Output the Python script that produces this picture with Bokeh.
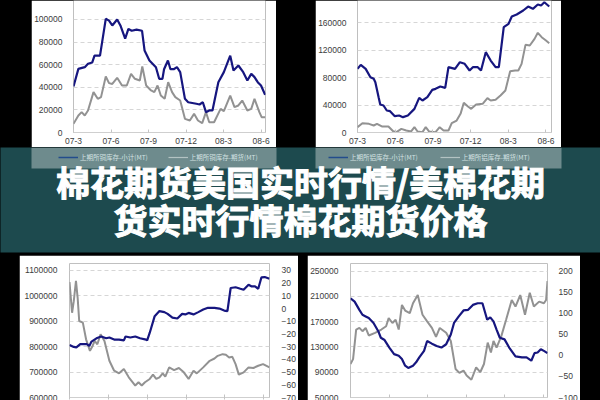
from bokeh.plotting import figure
from bokeh.layouts import row, column
from bokeh.models import (Range1d, LinearAxis, FixedTicker, BasicTickFormatter, Spacer,
                          Legend, LegendItem, GlobalInlineStyleSheet)
from bokeh.embed import file_html
from bokeh.resources import INLINE
from bokeh.core.properties import value

# ---------------- data ----------------
tick_pos = [0, 3, 6, 9, 12, 15]
tick_labels = ["07-3", "07-6", "07-9", "07-12", "08-3", "08-6"]

title_lines = ["棉花期货美国实时行情/美棉花期", "货实时行情棉花期货价格"]
legend_tl = ["上期所铜库存-小计(MT)", "上期所铜库存-期货(MT)"]
legend_tr = ["上期所铝库存-小计(MT)", "上期所铝库存-期货(MT)"]

# top-left: copper stocks (months since 07-3)
tl_blue_m = [0.00, 0.39, 0.90, 1.16, 1.50, 1.68, 2.12, 2.58, 2.84, 3.10, 3.49, 3.75, 4.13, 4.39, 4.65,
             5.04, 5.48, 5.68, 6.07, 6.59, 6.85, 7.11, 7.24, 7.55, 7.75, 8.01, 8.27, 8.53, 8.91, 9.17,
             9.82, 10.08, 10.34, 10.59, 10.85, 11.11, 11.58, 12.02, 12.53, 12.79, 13.18, 13.57, 13.90,
             14.21, 14.47, 14.73, 14.99, 15.32]
tl_blue_v = [40700, 56300, 57800, 60800, 62000, 68000, 68000, 100600, 99000, 94700, 100000, 94700,
             83000, 91700, 90000, 91000, 90000, 72600, 63700, 57800, 47500, 47500, 56000, 63700, 56000,
             56000, 57800, 53400, 29800, 26800, 25400, 24800, 26800, 18000, 19500, 19500, 44500, 53400,
             68000, 54900, 59300, 53400, 46000, 51900, 49000, 44500, 41600, 33300]
tl_gray_m = [0.00, 0.39, 0.65, 0.90, 1.16, 1.60, 1.94, 2.20, 2.58, 2.84, 3.10, 3.49, 3.88, 4.26, 4.60,
             4.91, 5.30, 5.50, 5.81, 6.20, 6.46, 6.72, 6.98, 7.29, 7.57, 7.88, 8.14, 8.53, 8.91, 9.30,
             9.64, 9.95, 10.29, 10.59, 10.85, 11.24, 11.76, 12.02, 12.53, 12.87, 13.18, 13.49, 13.90,
             14.21, 14.47, 14.86, 15.04, 15.32]
tl_gray_v = [7700, 15000, 18000, 15000, 19500, 35700, 29800, 31300, 49600, 43700, 43000, 48400, 41600,
             41600, 51900, 47500, 46000, 58400, 41600, 37200, 35700, 41600, 32700, 29800, 44500, 35700,
             31300, 28300, 12100, 10600, 16500, 10600, 8300, 18000, 9100, 9100, 20900, 18900, 32700,
             22400, 23900, 28300, 19500, 20900, 29800, 18000, 13600, 13600]

# top-right: aluminium stocks
tr_blue_m = [0.00, 0.26, 0.65, 1.03, 1.29, 1.42, 1.68, 1.81, 2.07, 2.33, 2.59, 2.97, 3.31, 3.62, 4.01,
             4.53, 4.91, 5.17, 5.56, 5.95, 6.21, 6.59, 6.98, 7.24, 7.76, 8.15, 8.53, 8.92, 9.18, 9.57,
             9.83, 10.21, 10.60, 10.99, 11.25, 11.64, 12.02, 12.28, 12.67, 13.19, 13.58, 13.96, 14.35,
             14.61, 14.87, 15.26]
tr_blue_v = [92900, 98700, 92900, 80700, 78300, 73400, 51500, 40800, 39400, 32100, 31100, 23800, 24800,
             22400, 24800, 34500, 50600, 46700, 51500, 62200, 63700, 67100, 65200, 95300, 92900, 102600,
             100200, 90500, 95300, 95300, 90500, 117200, 105000, 95300, 95300, 153700, 158500, 169200,
             172200, 178000, 183800, 180400, 186700, 185300, 190000, 183800]
tr_gray_m = [0.00, 0.39, 0.91, 1.29, 1.55, 1.94, 2.46, 2.84, 3.10, 3.49, 3.88, 4.27, 4.53, 4.78, 5.17,
             5.43, 5.69, 6.21, 6.54, 6.85, 7.24, 7.50, 7.89, 8.20, 8.46, 8.79, 9.05, 9.44, 9.96, 10.34,
             10.60, 10.99, 11.38, 11.77, 12.15, 12.54, 12.80, 13.06, 13.37, 13.71, 14.09, 14.35, 14.66,
             15.00, 15.26]
tr_gray_v = [7800, 13600, 12600, 10200, 12600, 8800, 8800, 1900, 500, 5300, 2900, 1500, 7800, 1500, 500,
             7800, 1500, 500, 7800, 2900, 2900, 13600, 17500, 27200, 43300, 37900, 34500, 40800, 41800,
             50100, 46700, 47700, 54000, 61300, 89500, 90500, 90500, 100200, 127900, 126900, 136600,
             145400, 139100, 134200, 130300]

# bottom-left: left axis (blue) and right axis (gray)
bl_blue_m = [0.00, 0.33, 0.53, 0.83, 1.33, 1.53, 1.70, 2.08, 2.45, 2.83, 3.08, 3.45, 3.83, 4.20, 4.33,
             4.70, 5.08, 5.45, 5.83, 6.00, 6.20, 6.58, 6.95, 7.33, 7.58, 7.95, 8.33, 8.70, 8.95, 9.20,
             9.58, 9.95, 10.33, 10.70, 11.20, 11.58, 11.95, 12.20, 12.45, 12.83, 13.20, 13.45, 13.83,
             14.08, 14.33, 14.58, 14.83, 15.08, 15.45]
bl_blue_v = [807000, 799000, 797000, 810000, 810000, 803000, 820000, 833000, 840000, 833000, 836000,
             828000, 828000, 825000, 840000, 836000, 840000, 833000, 829000, 825000, 855000, 920000,
             940000, 936000, 929000, 914000, 911000, 929000, 927000, 933000, 927000, 936000, 946000,
             953000, 953000, 950000, 942000, 940000, 1031000, 1034000, 1028000, 1024000, 1044000,
             1037000, 1037000, 1028000, 1073000, 1074000, 1067000]
bl_gray_m = [0.00, 0.20, 0.33, 0.50, 0.63, 0.75, 1.03, 1.28, 1.58, 1.78, 1.95, 2.15, 2.40, 2.70, 3.08,
             3.45, 3.83, 4.20, 4.58, 5.08, 5.33, 5.58, 5.83, 6.20, 6.45, 6.70, 6.95, 7.20, 7.40, 7.70,
             8.08, 8.45, 8.83, 9.20, 9.58, 9.83, 10.33, 10.83, 11.20, 11.45, 11.83, 12.08, 12.33, 12.58,
             12.83, 13.08, 13.45, 13.83, 14.20, 14.58, 14.95, 15.45]
bl_gray_v = [20.9, -3.3, 5.8, 21.9, 8.4, -9.8, -11.1, -24.2, -33.3, -29.4, -25.5, -28.1, -20.3, -25.5,
             -41.1, -48.9, -51.0, -47.6, -54.1, -60.6, -58.0, -60.6, -58.0, -55.4, -52.0, -55.4, -54.1,
             -51.0, -53.6, -46.3, -48.4, -46.8, -50.2, -55.4, -48.9, -51.0, -46.3, -41.1, -39.3, -37.2,
             -35.9, -36.4, -38.5, -38.0, -43.7, -52.0, -50.2, -46.3, -46.8, -45.0, -43.7, -46.3]

# bottom-right
br_blue_m = [0.00, 0.32, 0.69, 0.93, 1.18, 1.42, 1.79, 2.16, 2.36, 2.65, 3.02, 3.39, 3.75, 4.00, 4.25,
             4.49, 4.86, 5.10, 5.35, 5.72, 5.96, 6.33, 6.70, 7.07, 7.44, 7.80, 8.05, 8.42, 8.79, 9.15,
             9.52, 9.89, 10.26, 10.63, 10.87, 11.12, 11.36, 11.61, 11.98, 12.34, 12.83, 13.33, 13.69,
             14.06, 14.31, 14.55, 14.80, 15.04, 15.32]
br_blue_v = [206900, 201700, 188700, 180900, 178300, 175700, 167900, 154900, 144500, 140900, 129000,
             118600, 116000, 110800, 100400, 96800, 100400, 105600, 113400, 123800, 139400, 135200,
             131600, 129000, 134200, 149700, 167900, 178300, 187700, 188700, 196500, 199100, 199100,
             173100, 176800, 170500, 157500, 144500, 142000, 129000, 115000, 113400, 113400, 108200,
             120100, 121200, 126400, 123800, 120100]
br_gray_m = [0.00, 0.20, 0.44, 0.69, 0.93, 1.18, 1.42, 1.91, 2.40, 2.77, 2.97, 3.26, 3.51, 3.75, 4.00,
             4.25, 4.61, 4.86, 5.23, 5.60, 5.96, 6.33, 6.65, 6.94, 7.44, 7.80, 8.17, 8.47, 8.79, 9.03,
             9.40, 9.77, 10.09, 10.38, 10.67, 10.92, 11.12, 11.36, 11.73, 12.10, 12.54, 12.83, 13.20,
             13.57, 13.94, 14.26, 14.67, 15.04, 15.21, 15.32]
br_gray_v = [-20.5, -8.9, 61.3, 65.1, 57.4, 65.1, 47.2, 53.5, 61.3, 69.0, 88.5, 76.8, 84.6, 61.3, 119.7,
             106.4, 100.2, 123.6, 143.0, 96.3, 80.7, 65.1, 44.1, 65.1, 53.5, 34.0, -32.2, -41.6, -36.1,
             -47.8, -57.9, -28.3, -40.0, -20.5, 30.1, 6.7, 34.0, 18.4, 45.7, 84.6, 131.4, 115.8, 143.0,
             96.3, 148.5, 115.8, 127.5, 123.6, 131.4, 176.5]

tl_yticks = [0, 20000, 40000, 60000, 80000, 100000]
tr_yticks = [0, 40000, 80000, 120000, 160000]
bl_yticks = [600000, 700000, 800000, 900000, 1000000, 1100000]
bl_rticks = [-70, -60, -50, -40, -30, -20, -10, 0, 10, 20, 30]
br_yticks = [50000, 90000, 130000, 170000, 210000, 250000]
br_rticks = [-100, -50, 0, 50, 100, 150, 200]

# ---------------- style ----------------
NAVY = "#16167f"
GRAY = "#929292"
GRID = "#d6d6d6"
LBL = "#3c3c3c"
TEAL = "#1d4a4e"
FONT = "Liberation Sans"
CJK = "Noto Sans CJK SC"


def base_fig(w, h, xr, yr, mb):
    p = figure(width=w, height=h, x_range=Range1d(*xr), y_range=Range1d(*yr),
               output_backend="svg", toolbar_location=None,
               min_border_left=mb[0], min_border_right=mb[1],
               min_border_top=mb[2], min_border_bottom=mb[3],
               background_fill_color="white", border_fill_color="white",
               outline_line_color=None)
    p.xgrid.visible = False
    p.ygrid.grid_line_color = GRID
    p.ygrid.grid_line_dash = "4 3"
    p.ygrid.grid_line_width = 1
    return p


def style_yaxis(ax, ticks, standoff):
    ax.ticker = FixedTicker(ticks=ticks)
    ax.formatter = BasicTickFormatter(use_scientific=False)
    ax.axis_line_color = None
    ax.major_tick_line_color = None
    ax.minor_tick_line_color = None
    ax.major_label_text_font = FONT
    ax.major_label_text_font_size = "8.5px"
    ax.major_label_text_color = LBL
    ax.major_label_standoff = standoff


def style_xaxis(ax, show_labels, standoff):
    ax.ticker = FixedTicker(ticks=tick_pos)
    if show_labels:
        ax.major_label_overrides = {t: l for t, l in zip(tick_pos, tick_labels)}
    else:
        ax.major_label_overrides = {t: "" for t in tick_pos}
    ax.axis_line_color = "#cfcfcf"
    ax.major_tick_line_color = "#c4c4c4"
    ax.major_tick_in = 3
    ax.major_tick_out = 0
    ax.minor_tick_line_color = None
    ax.major_label_text_font = FONT
    ax.major_label_text_color = LBL
    ax.major_label_standoff = standoff
    ax.major_label_text_font_size = "8.5px"


# top-left
p_tl = base_fig(245, 147, (0, 15.35), (0, 116800), (36, 11, 0, 15))
style_yaxis(p_tl.yaxis[0], tl_yticks, 5)
style_xaxis(p_tl.xaxis[0], True, 5)
p_tl.ygrid.ticker = FixedTicker(ticks=tl_yticks)
p_tl.line(tl_gray_m, tl_gray_v, line_color=GRAY, line_width=2)
p_tl.line(tl_blue_m, tl_blue_v, line_color=NAVY, line_width=2.2)

# top-right
p_tr = base_fig(246, 147, (0, 15.44), (0, 192600), (37, 10, 0, 15))
style_yaxis(p_tr.yaxis[0], tr_yticks, 5)
style_xaxis(p_tr.xaxis[0], True, 5)
p_tr.ygrid.ticker = FixedTicker(ticks=tr_yticks)
p_tr.line(tr_gray_m, tr_gray_v, line_color=GRAY, line_width=2)
p_tr.line(tr_blue_m, tr_blue_v, line_color=NAVY, line_width=2.2)

# bottom-left
p_bl = base_fig(279, 145, (0, 15.45), (600000, 1127344), (50, 23, 7, 3))
p_bl.extra_y_ranges = {"r": Range1d(-70, 35.47)}
style_yaxis(p_bl.yaxis[0], bl_yticks, 6)
ax_r = LinearAxis(y_range_name="r")
style_yaxis(ax_r, bl_rticks, 6)
p_bl.add_layout(ax_r, "right")
style_xaxis(p_bl.xaxis[0], False, 0)
p_bl.xaxis[0].major_tick_out = 2
p_bl.ygrid.ticker = FixedTicker(ticks=bl_yticks)
p_bl.line(bl_gray_m, bl_gray_v, line_color=GRAY, line_width=2, y_range_name="r")
p_bl.line(bl_blue_m, bl_blue_v, line_color=NAVY, line_width=2.2)

# bottom-right
p_br = base_fig(273, 145, (0, 15.32), (50000, 262000), (39, 26, 8, 1))
p_br.extra_y_ranges = {"r": Range1d(-100, 218)}
style_yaxis(p_br.yaxis[0], br_yticks, 6)
ax_r2 = LinearAxis(y_range_name="r")
style_yaxis(ax_r2, br_rticks, 5)
p_br.add_layout(ax_r2, "right")
style_xaxis(p_br.xaxis[0], False, 0)
p_br.ygrid.ticker = FixedTicker(ticks=br_yticks)
p_br.line(br_gray_m, br_gray_v, line_color=GRAY, line_width=2, y_range_name="r")
p_br.line(br_blue_m, br_blue_v, line_color=NAVY, line_width=2.2)

# banner with title and legends
b = figure(width=600, height=108, x_range=Range1d(0, 600), y_range=Range1d(105, 0),
           x_axis_type=None, y_axis_type=None, output_backend="svg", toolbar_location=None,
           min_border_left=0, min_border_right=0, min_border_top=0, min_border_bottom=3,
           background_fill_color=TEAL, border_fill_color="black", outline_line_color=None)
b.grid.visible = False
b.quad(left=[31, 315], right=[276, 561], top=[0, 0], bottom=[21, 21],
       fill_color="white", fill_alpha=0.36, line_color=None)

NAN = [float("nan")]
r1 = b.line(x=NAN, y=NAN, line_color="#234c8c", line_width=1.5)
r2 = b.line(x=NAN, y=NAN, line_color="#b3c3c3", line_width=1.2)
r3 = b.line(x=NAN, y=NAN, line_color="#234c8c", line_width=1.5)
r4 = b.line(x=NAN, y=NAN, line_color="#b3c3c3", line_width=1.2)


def make_legend(labels, rs, loc, spacing):
    lg = Legend(items=[LegendItem(label=labels[0], renderers=[rs[0]]),
                       LegendItem(label=labels[1], renderers=[rs[1]])],
                location=loc, orientation="horizontal", padding=2, margin=0,
                spacing=spacing, glyph_width=20, glyph_height=10, label_height=10,
                label_standoff=2, label_text_font=CJK, label_text_font_size="6.5px",
                label_text_color="#d3e2e2", background_fill_alpha=0, border_line_alpha=0)
    return lg


b.add_layout(make_legend(legend_tl, [r1, r2], (56, 88), 20))
b.add_layout(make_legend(legend_tr, [r3, r4], (326, 88), 22))

b.text(x=[300, 300], y=[34, 72], text=title_lines, text_align="center", text_baseline="middle",
       text_font=value(CJK), text_font_size="34px", text_font_style="bold", text_color="white",
       text_outline_color="white")

top = row(Spacer(width=31, height=147), p_tl, Spacer(width=39, height=147), p_tr,
          Spacer(width=39, height=147))
bottom = row(Spacer(width=19, height=145), p_bl, Spacer(width=9, height=145), p_br,
             Spacer(width=20, height=145))
layout = column(top, b, bottom,
                stylesheets=[GlobalInlineStyleSheet(css="html,body{margin:0;padding:0;background:#000;}")])

open("out.html", "w").write(file_html(layout, INLINE))
